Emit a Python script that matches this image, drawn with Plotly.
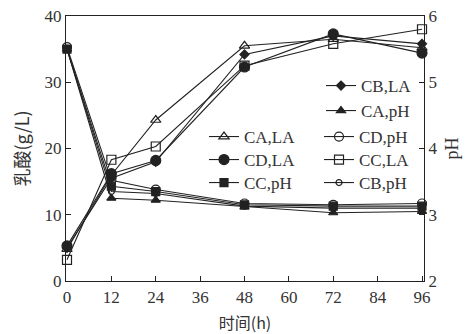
import plotly.graph_objects as go

hours = [0, 12, 24, 48, 72, 96]
x_ticks = [0, 12, 24, 36, 48, 60, 72, 84, 96]
la_ticks = [0, 10, 20, 30, 40]
ph_ticks = [2, 3, 4, 5, 6]

# Lactic acid (g/L), left axis
ca_la = [4.8, 16.0, 24.3, 35.5, 36.5, 35.2]
cb_la = [5.0, 15.5, 18.0, 34.2, 37.0, 35.8]
cd_la = [5.3, 16.2, 18.2, 32.3, 37.3, 34.4]
cc_la = [3.2, 18.3, 20.3, 32.5, 35.8, 38.0]

# pH, right axis
ca_ph = [5.50, 3.25, 3.22, 3.12, 3.03, 3.05]
cd_ph = [5.53, 3.52, 3.38, 3.17, 3.15, 3.17]
cc_ph = [5.50, 3.43, 3.35, 3.15, 3.13, 3.13]
cb_ph = [5.50, 3.35, 3.32, 3.13, 3.10, 3.10]

FONT = "Liberation Serif, Times New Roman, serif"
CJK = "Noto Sans CJK SC"
BLACK = "#222222"
TXT = "#333333"

fig = go.Figure()

def add(name, y, symbol, size, axis, legend):
    fig.add_trace(go.Scatter(
        x=hours, y=y, name=name, mode="lines+markers",
        line=dict(color=BLACK, width=1.1),
        marker=dict(symbol=symbol, size=size, color=BLACK,
                    line=dict(color=BLACK, width=1.2)),
        yaxis=axis, legend=legend, cliponaxis=False,
    ))

add("CB,LA", cb_la, "diamond", 7, "y", "legend")
add("CA,pH", ca_ph, "triangle-up", 8, "y2", "legend2")
add("CA,LA", ca_la, "triangle-up-open", 9, "y", "legend3")
add("CD,pH", cd_ph, "circle-open", 9, "y2", "legend3")
add("CD,LA", cd_la, "circle", 10, "y", "legend4")
add("CC,LA", cc_la, "square-open", 9, "y", "legend4")
add("CC,pH", cc_ph, "square", 8, "y2", "legend5")
add("CB,pH", cb_ph, "circle-open", 6, "y2", "legend5")

axis_common = dict(
    showgrid=False, zeroline=False, showline=True, linecolor=BLACK, linewidth=1.2,
    ticks="inside", ticklen=5, tickcolor=BLACK, tickwidth=1.2,
    tickfont=dict(family=FONT, size=17, color=TXT),
    ticklabeloverflow="allow",
    automargin=False,
)

# plot area (reference pixels): x 66..424, y 16..281
def lx(px):
    return (px - 66) / 358

def ly(py):
    return (281 - py) / 265

def leg(px, py):
    return dict(
        x=lx(px), y=ly(py), xanchor="left", yanchor="middle",
        orientation="h", bgcolor="rgba(0,0,0,0)", borderwidth=0,
        font=dict(family=FONT, size=17, color=TXT),
        entrywidth=70, entrywidthmode="pixels", itemwidth=30,
        tracegroupgap=0,
    )

# page body has an 8px margin, so the figure is drawn 8px in from the window edge
fig.update_layout(
    width=463, height=326,
    margin=dict(l=58, r=47, t=8, b=53),
    plot_bgcolor="white", paper_bgcolor="white",
    font=dict(family=FONT, color=TXT),
    showlegend=True,
    xaxis=dict(
        range=[-0.27, 96.54], tickvals=x_ticks, mirror=True,
        title=dict(text="时间(h)", font=dict(family=CJK, size=16, color=TXT), standoff=12),
        **axis_common,
    ),
    yaxis=dict(
        range=[0, 40], tickvals=la_ticks,
        title=dict(text="乳酸(g/L)", font=dict(family=CJK, size=18, color=TXT), standoff=14),
        **axis_common,
    ),
    yaxis2=dict(
        range=[2, 6], tickvals=ph_ticks, overlaying="y", side="right",
        title=dict(text="pH", font=dict(family=FONT, size=18, color=TXT), standoff=8),
        **axis_common,
    ),
    legend=leg(321, 86),
    legend2=leg(321, 111),
    legend3=leg(204, 137),
    legend4=leg(204, 160),
    legend5=leg(204, 183),
)

fig.write_html("out.html")
